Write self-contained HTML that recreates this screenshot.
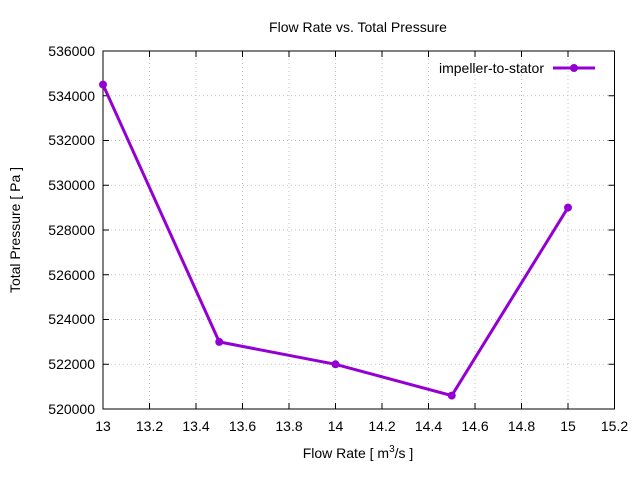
<!DOCTYPE html>
<html><head><meta charset="utf-8"><style>body{margin:0;background:#fff}svg{display:block}</style></head>
<body>
<svg width="640" height="480" xmlns="http://www.w3.org/2000/svg" font-family="Liberation Sans, sans-serif" font-size="14">
<rect width="640" height="480" fill="#fff"/>
<g stroke="#b0b0b0" stroke-width="0.8" stroke-dasharray="1,3">
<line x1="149.5" y1="51" x2="149.5" y2="409"/><line x1="196" y1="51" x2="196" y2="409"/>
<line x1="242.5" y1="51" x2="242.5" y2="409"/><line x1="289" y1="51" x2="289" y2="409"/>
<line x1="335.5" y1="51" x2="335.5" y2="409"/><line x1="382" y1="51" x2="382" y2="409"/>
<line x1="428.5" y1="51" x2="428.5" y2="409"/><line x1="475" y1="51" x2="475" y2="409"/>
<line x1="521.5" y1="51" x2="521.5" y2="409"/><line x1="568" y1="51" x2="568" y2="409"/>
<line x1="103" y1="364.25" x2="614.5" y2="364.25"/><line x1="103" y1="319.5" x2="614.5" y2="319.5"/>
<line x1="103" y1="274.75" x2="614.5" y2="274.75"/><line x1="103" y1="230" x2="614.5" y2="230"/>
<line x1="103" y1="185.25" x2="614.5" y2="185.25"/><line x1="103" y1="140.5" x2="614.5" y2="140.5"/>
<line x1="103" y1="95.75" x2="614.5" y2="95.75"/>
</g>
<rect x="103" y="51" width="511.5" height="358" fill="none" stroke="#000" stroke-width="1"/>
<g stroke="#000" stroke-width="1">
<path d="M149.5,409v-6M196,409v-6M242.5,409v-6M289,409v-6M335.5,409v-6M382,409v-6M428.5,409v-6M475,409v-6M521.5,409v-6M568,409v-6
M149.5,51v6M196,51v6M242.5,51v6M289,51v6M335.5,51v6M382,51v6M428.5,51v6M475,51v6M521.5,51v6M568,51v6
M103,364.25h6M103,319.5h6M103,274.75h6M103,230h6M103,185.25h6M103,140.5h6M103,95.75h6
M614.5,364.25h-6M614.5,319.5h-6M614.5,274.75h-6M614.5,230h-6M614.5,185.25h-6M614.5,140.5h-6M614.5,95.75h-6"/>
</g>
<g text-anchor="end">
<text x="95" y="414">520000</text><text x="95" y="369">522000</text><text x="95" y="324">524000</text>
<text x="95" y="280">526000</text><text x="95" y="235">528000</text><text x="95" y="190">530000</text>
<text x="95" y="145">532000</text><text x="95" y="101">534000</text><text x="95" y="56">536000</text>
</g>
<g text-anchor="middle">
<text x="103" y="431">13</text><text x="149.5" y="431">13.2</text><text x="196" y="431">13.4</text>
<text x="242.5" y="431">13.6</text><text x="289" y="431">13.8</text><text x="335.5" y="431">14</text>
<text x="382" y="431">14.2</text><text x="428.5" y="431">14.4</text><text x="475" y="431">14.6</text>
<text x="521.5" y="431">14.8</text><text x="568" y="431">15</text><text x="614.5" y="431">15.2</text>
<text x="358" y="32">Flow Rate vs. Total Pressure</text>
<text x="358" y="458">Flow Rate [ m<tspan font-size="10" dy="-6">3</tspan><tspan dy="6">/s ]</tspan></text>
<text transform="translate(20,230) rotate(-90)">Total Pressure [ Pa ]</text>
</g>
<text x="544" y="73" text-anchor="end">impeller-to-stator</text>
<g stroke="#9400d3" stroke-width="3" fill="none">
<line x1="553" y1="68" x2="595" y2="68"/>
<polyline points="103,84.6 219.25,341.9 335.5,364.3 451.75,395.6 568,207.6"/>
</g>
<g fill="#9400d3">
<circle cx="574" cy="68" r="4"/>
<circle cx="103" cy="84.6" r="4"/><circle cx="219.25" cy="341.9" r="4"/><circle cx="335.5" cy="364.3" r="4"/>
<circle cx="451.75" cy="395.6" r="4"/><circle cx="568" cy="207.6" r="4"/>
</g>
</svg>
</body></html>
